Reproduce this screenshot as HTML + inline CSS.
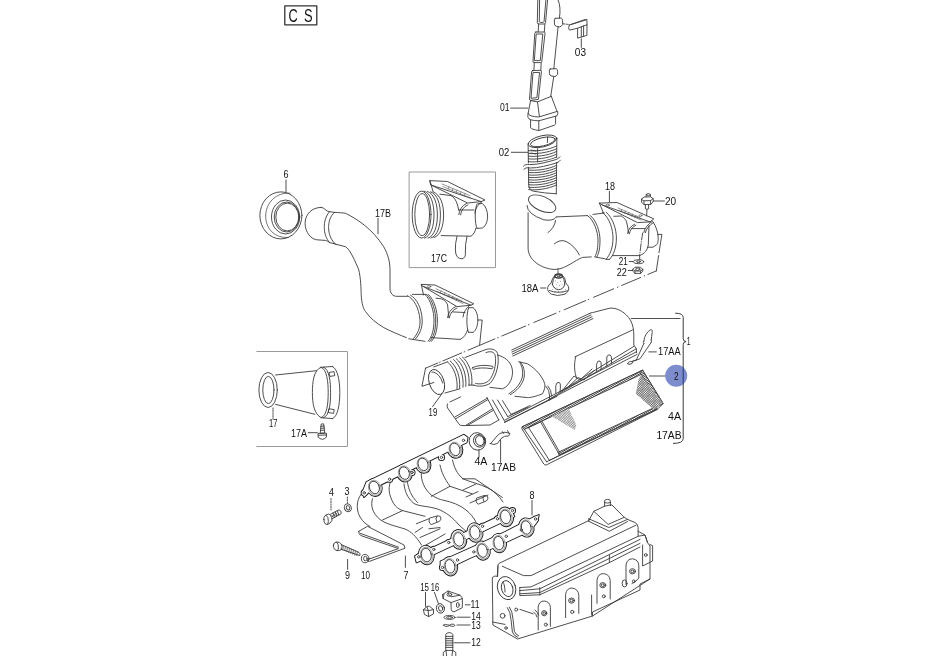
<!DOCTYPE html>
<html><head><meta charset="utf-8"><title>CS</title>
<style>
html,body{margin:0;padding:0;background:#fff;width:938px;height:656px;overflow:hidden}
svg{position:absolute;left:0;top:0;will-change:transform}
text{font-family:"Liberation Sans",sans-serif;fill:#111}
</style></head><body>
<svg width="938" height="656" viewBox="0 0 938 656">
<defs>
<pattern id="hatchA" width="1.6" height="1.6" patternUnits="userSpaceOnUse" patternTransform="rotate(60)"><rect width="1.6" height="1.6" fill="#fff"/><rect width="0.7" height="1.6" fill="#222"/></pattern>
<pattern id="hatchB" width="1.7" height="1.7" patternUnits="userSpaceOnUse" patternTransform="rotate(45)"><rect width="1.7" height="1.7" fill="#fff"/><rect width="0.55" height="1.7" fill="#333"/><rect width="1.7" height="0.45" fill="#555"/></pattern>
<pattern id="hatchC" width="1.8" height="1.8" patternUnits="userSpaceOnUse" patternTransform="rotate(45)"><rect width="1.8" height="1.8" fill="#fff"/><rect width="0.45" height="1.8" fill="#444"/><rect width="1.8" height="0.35" fill="#777"/></pattern>
</defs>
<g fill="none" stroke="#3a3a3a" stroke-width="0.9" stroke-linejoin="round" stroke-linecap="round">
<!-- CS -->
<rect x="284.8" y="5.8" width="32" height="19" stroke-width="1.3" stroke="#333"/>

<!-- ===== 01 pipe ===== -->
<path d="M537.8,0 L537.3,22.8 Q537.4,24 539,24 L544.3,24 Q545.4,23.8 545.5,22.6 L547.6,0"/>
<path d="M539.6,0 L539.3,21.5 Q539.5,22.4 540.5,22.4 L543.3,22.4 Q544,22 544.1,21 L545.9,0"/>
<path d="M538.6,24 L538.2,32 M544.9,24 L544.3,32"/>
<path d="M535.9,32 L544.3,32 Q545.2,32.4 545,33.5 L541.8,61.5 Q541.6,62.6 540.5,62.6 L534,62.6 Q532.9,62.4 533,61.3 L534.8,33.3 Q535,32.1 535.9,32 Z"/>
<path d="M536.6,34 L542.8,34 L540.3,60.6 L534.7,60.6 Z"/>
<path d="M534.3,62.6 L533.9,70.6 M541.2,62.6 L540.8,70.3"/>
<path d="M532.7,70.6 L540.8,70.3 Q541.6,70.8 541.4,71.8 L538.4,99.4 L530.6,100.4 Q529.4,100.2 529.5,99 L531.6,71.8 Q531.8,70.8 532.7,70.6 Z"/>
<path d="M533.4,72.6 L539.6,72.4 L536.9,97.6 L531.4,98.3 Z"/>
<path d="M530.6,100.6 L537.5,101.9 L551.3,96.3 M530.6,100.6 L528.1,113.4 M551.3,96.3 L557,111.3 M537.5,101.9 L539.4,116.5"/>
<path d="M528.1,113.6 Q528.8,116.6 538.8,117 L557.6,111.3 Q558.4,113.5 557,115.8 L538.8,120.8 Q528.8,120.6 528.1,117.6 Q527.4,115.6 528.1,113.6 Z"/>
<path d="M530.6,120.2 L530.6,127.9 Q531,129 538.8,130.6 L554.4,125.2 Q555.6,124.5 555.6,123.6 L555.6,116.3 M538.8,120.8 L538.8,130.4"/>
<!-- rod -->
<path d="M558.1,0 Q561.2,7 559.4,18.2 M558.1,26.9 L553.8,68.8 M553.8,76.3 L550.7,96.4"/>
<path d="M555.2,18.4 L561.2,18 Q562.6,18.6 562.6,20.6 L562.6,24.6 Q561.6,26.6 559.2,27 L556.2,26.2 Q554.5,25.6 554.4,24 L554.4,19.6 Q554.5,18.6 555.2,18.4 Z"/>
<path d="M550.2,69 L556.2,68.6 Q557.6,69.2 557.6,71.2 L557.6,74.4 Q556.6,76.4 554.2,76.6 L551.2,75.8 Q549.5,75.2 549.4,73.8 L549.4,70 Q549.5,69.2 550.2,69 Z"/>
<path d="M563.2,23.8 L568.2,24.4" stroke-dasharray="2 1.5"/>
<!-- 03 clip -->
<path d="M569.4,25 L585.4,19.4 L587,20.4 L586.9,35.4 L577.6,38.1 L577.6,28.2 L569.6,30.1 Q568.7,29.4 568.7,27.5 Q568.8,25.5 569.4,25 Z M577.6,28.2 L586.9,24.8 M581.3,26.6 L581.3,37 M583.6,25.8 L583.6,36.4 M571.4,24.4 L587,19.6"/>
<path d="M581.3,38.8 L581.3,47.4"/>
<path d="M510.6,108.1 L528,108.1"/>

<!-- ===== 02 hose ===== -->
<ellipse cx="542.5" cy="141.3" rx="14.6" ry="5.6" transform="rotate(-13 542.5 141.3)"/>
<ellipse cx="542.8" cy="141.8" rx="12.6" ry="4.1" transform="rotate(-13 542.8 141.8)"/>
<path d="M547.6,137 L547.4,142.6"/>
<path d="M528.1,143.5 L528.7,185.4 Q529.6,190.4 533.4,191.2 Q544,193.2 556.3,193.8 M556.9,138.2 L556.3,193.8"/>
<path d="M528.4,150.6 C535,151.6 548,150.2 556.6,146.0 M528.4,153.3 C535,154.3 548,152.9 556.6,148.8 M528.4,156.1 C535,157.1 548,155.7 556.6,151.5 M528.4,158.8 C535,159.8 548,158.4 556.6,154.2 M528.4,161.6 C535,162.6 548,161.2 556.6,157.0 M528.4,164.3 C535,165.3 548,163.9 556.6,159.8 M528.6,170.0 C535,171.0 548,169.6 556.4,165.4 M528.6,172.4 C535,173.4 548,172.0 556.4,167.8 M528.6,174.9 C535,175.9 548,174.5 556.4,170.3 M528.6,177.3 C535,178.3 548,176.9 556.4,172.8 M528.6,179.8 C535,180.8 548,179.4 556.4,175.2 M528.6,182.2 C535,183.2 548,181.8 556.4,177.7 M528.6,184.7 C535,185.7 548,184.3 556.4,180.1 M528.6,187.2 C535,188.2 548,186.8 556.4,182.6 M528.6,189.6 C535,190.6 548,189.2 556.4,185.0 M537.6,148.6 L537.6,162.2 M531,150 L536,151 M531,153 L536,154"/>
<path d="M523.4,166.7 C525,164.6 527,164.8 529.6,165.2 C538,165.4 548,162.4 556.6,160 C558.2,159.2 559.4,158.2 560,157.4" stroke="#fff" stroke-width="3.4"/><path d="M523.4,166.2 C525,164.2 527,164.4 529.6,164.6 C538,164.8 548,161.8 556.6,159.4 C558.2,158.6 559.4,157.6 560,156.8"/>
<path d="M523.8,169.4 C525.4,167.4 527.4,167.6 530,168 C538.4,168.2 548.4,165.2 557,162.8 C558.6,162 559.8,161 560.4,160.2"/>
<path d="M511.3,152.3 L527.8,152.3"/>

<!-- ===== 18 elbow ===== -->
<ellipse cx="542.2" cy="203.7" rx="14.6" ry="7.2" transform="rotate(24 542.2 203.7)"/>
<path d="M527,205.5 Q527,214 543.8,219.8 Q553.5,221.5 556.4,217"/>
<path d="M528.1,212.6 L528.1,248.8 C528.6,262 545,270 556.3,269.4 C566,268.6 575,260.2 582.5,257.4 L591.3,256.9"/>
<path d="M556.3,216.9 L587.5,215.6"/>
<path d="M548,232.6 Q554.4,228 555.6,220.4 M554.4,243.8 Q560,239 566,241.4 Q575,246 579.4,255"/>
<path d="M587.5,215.6 C594,220 598,232 598,240 C598,248 597,253 595,256.6 M590,215.4 C596.5,220 600,232 600,240 C600,248 599,253 597,256.7"/>
<path d="M593,214.4 L604.4,213 M595,257 L605,258.8"/>
<path d="M602.5,212.5 C610,218 613,230 613,238 C613,248 610,255 606,259.4 M606.2,212.3 C613.2,218 616.4,230 616.4,238 C616.4,248 613.6,255 609.6,259.3 M606,259.4 L609.6,259.3"/>
<path d="M613.8,216.3 L621.3,216 C624,217.5 626,220 626.6,222 C627.6,226 628.3,230 628.5,233 M631.6,228.6 L644.7,228.6 M612.5,255.6 L638.8,255.6"/>
<path d="M642.7,233 C641.5,240 640.5,248 639.6,256 L639.8,259.6" stroke-dasharray="7 1.6 0.6 1.6"/><path d="M649,225.8 L648.3,244.9 C647.5,250 645,253.5 639.6,255.6"/>
<path d="M653,221.9 C656,226 658,232 658.2,237.7 C658.2,242 657.5,244.5 656.2,244.9 L653,247.2 L647.5,247.2"/>
<path d="M599.4,203.1 L616.9,202.5 L653.8,218.8 L650,221.9 L637.5,222.6 L602.5,205 Z M599.4,203.1 L603.5,213 M602.5,205 L650,221.9"/>
<path d="M618,208 L640,217.6 M619,210.4 L641,220 M622,209.4 L621,211.6 M625.5,210.9 L624.5,213.1 M629,212.4 L628,214.6 M632.5,214 L631.5,216.2 M636,215.5 L635,217.7" stroke-width="0.55" stroke="#444"/><ellipse cx="607.6" cy="205.2" rx="1.8" ry="0.9" stroke-width="0.6"/><ellipse cx="640.4" cy="215.6" rx="1.6" ry="0.9" stroke-width="0.6"/>
<path d="M627.6,233.4 Q628.6,227 634.6,224.2 M629.4,233.8 Q630.2,228 635.8,225.2 M643.8,232.4 Q645,226 652.5,221.2 M645.4,232.6 Q646.6,226.8 653.6,222.4"/>
<path d="M609.4,191.3 L609.4,202.5"/>
<!-- 20 bolt -->
<path d="M646.2,197 L646.2,194.4 Q648.3,192.6 650.4,194.4 L650.4,197 M646.2,195 Q648.3,196 650.4,195"/>
<path d="M641.6,199 L644,197 L650.6,196.8 L653.2,198.6 L650.6,200.6 L644,200.8 Z M641.6,199 L641.6,202.2 L644,204.6 L650.6,204.4 L653.2,202 L653.2,198.6 M644,200.8 L644,204.6 M650.6,200.6 L650.6,204.4" fill="#fff"/>
<path d="M645.4,204.8 L645.4,208.8 Q647,209.8 648.6,208.8 L648.6,204.6 M647,209.6 L646.6,216" />
<path d="M653.4,201 L664.4,201"/>
<!-- 21 22 -->
<ellipse cx="638.5" cy="261.7" rx="5.2" ry="2"/>
<ellipse cx="638.5" cy="261.7" rx="2" ry="0.8"/>
<path d="M632.8,269.4 L635,267.2 L640.6,267.2 L642.8,269.4 L642.8,271.2 L640.6,273.4 L635,273.4 L632.8,271.2 Z M632.8,269.4 L635,271 L640.6,271 L642.8,269.4 M635,271 L635,273.4 M640.6,271 L640.6,273.4" fill="#fff"/>
<ellipse cx="637.8" cy="269.2" rx="2.2" ry="1.2"/>
<path d="M629.2,261.5 L633,261.5 M628.2,270.5 L632.4,270.5"/>

<!-- 18A boot -->
<path d="M550.6,283.6 Q548,285 547.6,287.6 Q547.4,292 551.4,294.2 Q557.6,296.6 564,294.4 Q568.8,292.6 568.8,288 Q568.4,285 566,283.6 L564.6,278 Q563.4,275 558.6,274 Q553.8,275 552.8,278 Z" fill="#fff"/>
<path d="M554.9,276.4 Q553,279 552.4,284.2 M562.4,276.4 Q564.4,279 564.8,284.2 M552.4,284.2 Q553.6,289.2 558.4,289.8 Q563.6,289.6 564.8,284.2 M549.4,290.6 Q557.6,294 567.6,290.8"/>
<ellipse cx="558.6" cy="276" rx="3.8" ry="2" stroke-width="1.3"/>
<ellipse cx="558.6" cy="275.8" rx="1.8" ry="0.9"/>
<circle cx="555.5" cy="281" r="0.45" fill="#444" stroke="none"/><circle cx="557.8" cy="282.4" r="0.45" fill="#444" stroke="none"/><circle cx="560.6" cy="281.2" r="0.45" fill="#444" stroke="none"/><circle cx="556.2" cy="284.6" r="0.45" fill="#444" stroke="none"/><circle cx="559.4" cy="285.8" r="0.45" fill="#444" stroke="none"/><circle cx="562" cy="284.2" r="0.45" fill="#444" stroke="none"/><circle cx="554.4" cy="287.2" r="0.45" fill="#444" stroke="none"/><circle cx="557" cy="288" r="0.45" fill="#444" stroke="none"/><circle cx="561.4" cy="288.4" r="0.45" fill="#444" stroke="none"/><circle cx="563.4" cy="286.6" r="0.45" fill="#444" stroke="none"/><circle cx="552.4" cy="289.6" r="0.45" fill="#444" stroke="none"/><circle cx="565.4" cy="289.8" r="0.45" fill="#444" stroke="none"/><circle cx="558.6" cy="291.4" r="0.45" fill="#444" stroke="none"/><circle cx="555" cy="291.8" r="0.45" fill="#444" stroke="none"/><circle cx="562.2" cy="292" r="0.45" fill="#444" stroke="none"/>
<path d="M558,268.6 L558,273.4" stroke-dasharray="1.5 1.2"/>
<path d="M540.6,288 L545.8,288"/>
<!-- long dash line -->
<path d="M425.3,368.3 L437.8,363.0 M442.9,360.9 L461.7,352.9 M468.1,350.2 L494.9,338.9 M501.8,336.0 L525.7,326.0 M533.8,322.5 L556,313.2 M564.1,309.8 L585.7,300.6 M593.6,297.3 L613.7,288.8 M621.6,285.5 L640.6,277.5 M647.9,274.4 L656.3,270.9 M439.6,362.3 L440.2,362.0 M464.1,351.9 L464.7,351.7 M497.6,337.8 L498.2,337.6 M528.4,324.8 L529.0,324.6 M559.3,311.8 L559.9,311.5 M588.2,299.6 L588.8,299.3 M617.4,287.3 L618.0,287.0 M644.2,276.0 L644.8,275.7 M656.3,271 L658.6,255.6 M659,252.6 L661.9,234.4 L657.5,234.4"/>

<!-- ===== Box 17C ===== -->
<rect x="409.5" y="172" width="86" height="95.6" stroke="#999" stroke-width="1"/>
<ellipse cx="421.6" cy="214.6" rx="9.4" ry="23.4"/>
<ellipse cx="422.2" cy="214.6" rx="7.4" ry="21"/>
<path d="M424,191 C431,193 434,204 434,215 C434,226 431,236 424.5,238.2 M427.5,191.4 C434.5,194 437.4,204 437.4,215 C437.4,226 434.5,236 428,238.2 M430.5,191.8 C437.5,194 440.4,204 440.4,215 C440.4,226 437.5,236 431,238 M433.5,192 C440.5,195 443.6,204 443.6,215 C443.6,226 440.5,235.5 434,237.6"/>
<path d="M440,194.2 L451,195.6 Q455.6,198 457.5,205 L458.8,210.4 M441.2,235.6 L471,236.2 Q474.6,234 476,228"/>
<path d="M477,204 C474.6,208 474.6,224 477,228.4 M478,203.6 L482.5,203.6 C486,206 487.6,212 487.6,216 C487.6,221 486,226 482.5,228 L477,228.4"/>
<path d="M430,180.6 L447.5,181.5 L485,200 L481.2,201.6 L467.6,203 L431,185 Z M430,180.6 L433,191.6 M431,185 L481.2,201.6"/>
<path d="M442,184 L470,195.6 M443,186.6 L471,198.2 M449,186.8 L448.2,189 M453,188.5 L452.2,190.7 M457,190.2 L456.2,192.4 M461,191.9 L460.2,194.1 M465,193.6 L464.2,195.8" stroke-width="0.55" stroke="#444"/>
<path d="M458.8,214.6 Q459.4,207 466.6,203.4 M460.6,214.8 Q461.2,208 468,204.8 M474.8,213 Q475.6,206 481.6,202 M459,210 L474,210"/>
<path d="M457,236.4 Q455,244 455.4,250 Q455.6,259 462,258.8 Q466,258 465.4,252 Q465,245 467,236.4"/>

<!-- ===== 6 ring ===== -->
<ellipse cx="280.9" cy="215.4" rx="21" ry="23.5"/>
<path d="M290,193.2 C276,192 265.7,203 265.7,216.1 C265.7,229 275,238.4 288,237.4" stroke-width="0.7"/>
<ellipse cx="285.6" cy="217" rx="14.1" ry="17"/>
<ellipse cx="286.7" cy="217" rx="12.5" ry="15"/>
<ellipse cx="287.3" cy="217" rx="11.5" ry="13.9"/>
<path d="M286,180 L286,192"/>

<!-- ===== 17B hose ===== -->
<path d="M321.1,207.4 C312,207.4 305.1,214 305.1,223.4 C305.1,232 311,239.9 317.9,239.9 L325.4,240.4 Q327.4,240.8 329.6,242.6 L333.9,243.6"/>
<path d="M321.1,207.4 Q323.5,207.6 325,209.4 Q327,211.4 329.6,211.7 L334.6,212.4"/>
<path d="M329.6,211.7 C325.5,216 324.2,222 324.3,227.6 C324.4,233 326,238.6 329.6,242.6 M334.6,212.4 C330,216 328.6,222 328.6,227.6 C328.6,234 331,240.4 336,244.7"/>
<path d="M334.6,212.4 C339,212.6 342.5,212.8 345.6,213.3 C358,219.6 372,228.6 383.6,246.6 C388,254 390,262 390,270 L390,288.8 C390,293 393,296.3 396.3,296.3 L407.5,296.3"/>
<path d="M333.9,243.6 L345.6,246.8 C349,249 352,254 358.5,269 C361,278 361,290 361.2,294.4 C361.6,304 363.6,309 365.4,311.4 C370,318 376,323 383.8,327.6 C392,332 400,335 406.3,337.6"/>
<path d="M407.5,295.7 C414,299 419,308 420,320 C420.4,328 417.6,334 413.4,338.6 M410.6,295.2 C417,299 421.6,308 422.2,320 C422.4,328 419.8,334 415.6,338.8"/>
<path d="M412.5,294.4 L426.3,294.4 M408.8,338.8 L425,341.3"/>
<path d="M425,294.4 C431,300 434,312 434,320 C434,330 432,337 428,341.3 M428.6,294.6 C434.6,300 437.4,312 437.4,320 C437.4,330 435.4,337 431.4,341.4 M426.8,294.5 C432.8,300 435.7,312 435.7,320 C435.7,330 433.7,337 429.7,341.4"/>
<path d="M436,298.2 L441.3,298.8 C445,300 447,303 447.6,305 L448.8,317.6 M431,337.6 L460,339.4 C464,338 466,334 467.6,330"/>
<path d="M468.6,307.8 C466.4,313 466.2,327 468.4,332.2 M468.6,307.8 L473,307.6 C476.6,310 477.8,316 477.8,320 C477.8,325 476.6,330 473,332.4 L468.4,332.2"/>
<path d="M421.3,284.4 L435,285 L473.8,303.8 L471,305.2 L457,306.6 L423,286.3 Z M421.3,284.4 L423.5,295 M423,286.3 L471,305.2"/>
<path d="M436,288.8 L462,301 M437,291.4 L463,303.6 M441,290.9 L440.2,293.1 M445,292.8 L444.2,295 M449,294.7 L448.2,296.9 M453,296.6 L452.2,298.8 M457,298.5 L456.2,300.7" stroke-width="0.55" stroke="#444"/><ellipse cx="429" cy="286.6" rx="1.8" ry="0.9" stroke-width="0.6"/>
<path d="M447.6,317.6 Q448.4,310 455.6,306.6 M449.4,317.8 Q450.2,311 457,308 M463,317 Q463.8,310 469.6,305.4 M452.5,311.9 L465,312.5"/>
<path d="M477.8,320 L482.2,320 L479.6,345.2"/>
<path d="M378,218.4 L378,233.8"/>

<!-- ===== Box 17 ===== -->
<path d="M256.8,351.5 L347.5,351.5 L347.5,446.5 L256.8,446.5" stroke="#999" stroke-width="1"/>
<ellipse cx="268.1" cy="390" rx="9.2" ry="17.5"/>
<ellipse cx="268.4" cy="390" rx="5.6" ry="13.6"/>
<path d="M275.6,375 L316.6,370.7 M275.6,404.4 L314.9,414.3"/>
<path d="M321,367.3 C313.6,370 312.4,382 312.4,392.5 C312.4,404 314,414 321.2,417.7"/>
<path d="M321,367.3 C327,369 328.2,382 328.2,392.5 C328.2,404 327,415.6 321.2,417.7 M323.4,367.1 C329.4,369 330.6,382 330.6,392.5 C330.6,404 329.4,415.6 323.6,417.8"/>
<path d="M321,367.3 L332.4,366.5 M321.2,417.7 L332.6,418.6"/>
<path d="M332.4,366.5 C337.8,368.6 339.8,381 339.8,392.5 C339.8,404.5 337.8,416.6 332.6,418.6"/>
<path d="M329.4,372.4 L334,371.6 L334.8,375.6 L330.2,376.4 Z M329.2,408.8 L334.2,409.6 L333.6,413.4 L328.6,412.6 Z"/>
<path d="M273,408 L273,419.2" stroke-dasharray="1.4 1.1"/>
<path d="M308.2,432.7 L317.4,432.7"/>
<path d="M321.6,424 L323.6,423.8 L324.8,433 L320.6,433.2 Z M320.8,426.4 L324.2,426 M320.9,428.4 L324.4,428 M320.8,430.4 L324.6,430"/>
<path d="M318.4,433.4 L326.4,433.2 L326.4,437.2 Q322.4,441.4 318.4,437.4 Z M318.4,435.2 L326.4,435"/>
<!-- ===== housing (1) ===== -->
<!-- lower duct -->
<path d="M450,401.9 L460.6,396.9 M447.5,403.8 Q446.4,406 447.6,408 L458.8,423.8 Q460,425.6 462,425.6 L490,425 L498.8,420" fill="#fff"/>
<path d="M455,416.9 L487.5,398.1 M455.6,418.8 L487.6,399.8 M466.3,425 L492.5,408.8 M467.3,425.6 L493.2,410.4"/>
<path d="M486.9,397.5 L498.8,420 M492.5,400 L503.4,419 M497.5,400 L507.8,416.6 M502.5,400.6 L511,414.4 M503.4,419 L505,421.9 L557,396.3 M507.8,416.6 L527.5,407.5 M511,414.4 L530,405.6"/>
<!-- main cover -->
<path d="M511.7,350 L590,313.3 M512,352 L591,315 M512.4,354 L592,316.8 M512.8,356 L593,318.6"/>
<path d="M590,313.3 Q591,312.4 592.6,312.6 L610,308.1 C618,307.6 626,313 630.4,320 C633,325 633.8,330 633.8,335 L633.8,345 L636.3,348.8 L636.6,352.8"/>
<path d="M575,356.8 L632.5,330 M575.8,356.8 C573.8,364 574.2,372 576.7,378.4"/>
<path d="M548.8,399.4 L636.3,348.8 M558.8,392.5 L633.8,346.4 M505,420 L636.6,351.7 M504.4,422.6 L637,354.4"/>
<path d="M596.6,372 L596.6,364.2 Q597.4,360.2 600,361 Q601.6,362 601.2,366 L601,369 M606.8,366.4 L606.8,357 Q607.6,354.2 610.2,355 Q611.8,356 611.6,359.6 L611.4,363.6"/>
<path d="M555.8,393.2 L555.8,385.6 Q556.6,381.6 559.2,382.4 Q560.8,383.4 560.4,387 L560.2,390.6"/>
<path d="M562,391 L574,376 L580,380 L592,369 M566,389 L578,377.6 L584,380 L594,370.6"/>
<!-- left curved duct area -->
<path d="M465,357.5 L484,350.2 C490,347.6 496,349 497.6,353.6 C499.6,362 497,376 490,383.4 C485,386.6 478,386.8 473.8,385.2 M486,352.6 C491,350.6 494.4,352 495.2,355.6 C496.6,363 494.4,375 488.4,381.2 C484.4,384 479,384.4 475.6,383.4"/>
<path d="M497.5,355 C505,357 510,361 512,368 C514,376 510,386 502.5,388.8 L490,387.4"/>
<path d="M518.8,361.3 C522,365 523,370 522.5,376 C521,384 515,390 508.8,393.8 M520.4,362 C523.8,366 524.8,371 524.2,377 C522.6,385 516.6,391 510.4,394.6"/>
<path d="M520,362 L527.5,363.8 C533,367 538,372 540,375 C543,379 545,383 545,386 C544.6,390 543,392.6 542.5,393.8 C535,396.8 530,397.6 527.5,397.6 L515,396.3"/>
<path d="M472.6,367.6 Q481,363.8 492.6,366.3 Q493.6,368 492,368.8 Q481,366.8 473,369.4 Q471.6,368.8 472.6,367.6 Z"/>
<path d="M546,386.4 Q549.6,390 549.6,396 L549.2,400.4 M548,386 Q551.6,390 551.6,396"/>
<!-- part 19 -->
<path d="M425.6,368.1 L421.9,386.3 L433.8,382.5"/>
<ellipse cx="436.6" cy="382" rx="7.4" ry="13" transform="rotate(-18 436.6 382)"/>
<path d="M431.8,372 C437,372 441,377 442.6,383 M433.8,366.9 L447.5,361.9 M445,393 L460,388.8"/>
<path d="M447.5,361.9 C454,367 458,378 457,388.8 M450.2,361 C456.6,366 460.6,377 459.6,388.2 M453.6,359.6 C460,365 464,376 463,387.2 M456.4,358.8 C462.8,364 466.8,375 465.8,386.4 M459.6,357.8 C466,363 470,374 469,385.6 M462.4,357 C468.8,362 472.8,373 471.8,384.8"/>
<path d="M469,385 L474,385.2"/>
<path d="M432.6,406.6 L442,393.6"/>
<!-- brace & 1 -->
<path d="M631.3,318.5 L680,318.5"/>
<path d="M675.6,313.2 Q683.2,313.2 683.2,317.4 L683.2,338.6 Q683.2,341.4 686,341.6 Q683.2,341.8 683.2,344.6 L683.2,438.6 Q683.2,443.4 673.4,443.4" stroke-width="1"/>
<!-- 17AA -->
<path d="M643.8,341.3 Q644.6,333 651.2,329.4 Q652.6,330 652.2,332.6 Q651.6,336.6 651.2,340 M643.8,343.6 L636.3,360 M651.2,342.4 L640,358.8 L632.6,361.3 M643.8,341.3 Q642.6,342.6 643.8,343.6 M651.2,340 Q652,341.4 651.2,342.4 M636.3,360 L632.5,361.3"/>
<path d="M627.6,363.6 Q628,361.6 630.6,361.4 L632.6,361.8 Q632.8,363.8 630.4,364.2 Z"/>
<path d="M648.8,351.9 L656.3,351.9"/>
<path d="M649.4,376 L665,376"/>
<!-- filter 2 -->
<path d="M522.6,426.6 L642.6,370.2 L663.2,403.6 L656.9,409.7 L546.4,464.9 Q544.6,465.4 543.8,464 L521.8,428.6 Q521.6,427.2 522.6,426.6 Z" fill="#fff"/>
<path d="M522.6,426.6 L642.6,370.2 L643.8,373.2 L524.4,429.4 Z" fill="url(#hatchA)"/>
<path d="M642.6,370.2 L663.2,403.6 L660.6,405 L640.4,373 Z" fill="url(#hatchA)"/>
<path d="M524.4,429.4 L546.6,461.8 M546.6,461.8 L656.9,406.6 M660.6,405 L656.9,406.6 L656.9,409.7"/>
<path d="M528.6,427.6 L549.4,460.4 M528.6,427.6 L540.4,421.8"/>
<path d="M558.4,452.2 L655.6,407 L656.4,409.4 L559.4,454.8 Z" fill="url(#hatchA)"/><path d="M549.4,460.4 L656.4,409.4"/>
<path d="M540.4,421.6 L558.4,453 M541.8,421 L559.8,452.4"/>
<path d="M641.2,375.2 L638.6,379.3 L635.8,393.7 L653.7,409.4 L663,403 Z" fill="url(#hatchB)" stroke="none"/>
<path d="M551.8,416.5 L568.7,408.4 L576.3,424.9 L574.8,429.9 Z" fill="url(#hatchC)" stroke="none"/>


<!-- ===== manifold ===== -->

<path d="M363.8,491.3 C357,497 355,508 360,517 C363,522 367,525 370,526.5"/>
<path d="M372.5,498.8 C370.5,505 372,513 380,519.5 C386,524 395,526 405,529 C411,531.5 416,536 421.5,545"/>
<path d="M391.3,480 C388,486 388,494 393.8,503.8 C396,507 398.5,509 402.5,510.6"/>
<path d="M382.5,520 L402.5,510.6 L425,516.3"/>
<path d="M404,483.8 C404.5,490 407,498 414,503.5 C419,506.5 428,506 437.5,509 C446,512 453,518 458,524 C462,528 466,531 468,533"/>
<path d="M407.5,482.5 C408.5,489 411,496 417.5,502.5"/>
<path d="M421.3,473.8 C421,480 424,489 431.3,495 C436,498 440,499.5 442.5,500 C452,502 460,505 466,510 C470,513 474,518 476,522"/>
<path d="M431.3,496.3 L450,486.3 L472,493.8"/>
<path d="M440,465 C441.5,472 444,478 450,486.3"/>
<path d="M452.5,460 C454,467 457,474 463,478.8 C470,482 480,484 488,488 C494,491 499,496 503,502"/>
<path d="M462.5,478.8 L475,478.8 L502.5,497.5"/>
<path d="M416.3,523.8 L428.8,518.8 M415,532.5 L422.5,527.5 M428.8,528.8 L440,527.5 M420,537.5 L440,528.8 M426,545 L445,534"/>
<path d="M429.5,518.4 Q428,522.6 431.2,524.6 L439.4,521.4 Q441.8,519.2 440.6,516.8 Q439,515.4 437,516 Z M437,516 Q434.8,518.6 436.8,521.8"/>
<path d="M476.5,498.4 Q475,502.4 478.2,504.2 L486.4,501 Q488.8,498.8 487.6,496.4 Q486,495 484,495.6 Z M484,495.6 Q481.8,498.2 483.8,501.4"/>
<path d="M463,490 L476,484 M466,497 L478,491.6 M470,503 L488,495"/>
<!-- left plate -->
<path d="M358.8,531.3 L367.5,526.3 L404,545 L405,548.2 L369.4,561.4 Q366.8,561.6 367.6,559.6 L398.4,548.6 L361,535.6 Q358,534 358.8,531.3 Z" fill="#fff"/>
<path d="M360.4,533.4 L398.6,547.2"/>

<g stroke="#1a1a1a" stroke-width="1.9" fill="#1a1a1a"><ellipse cx="374.4" cy="487.5" rx="7.2" ry="8.6" transform="rotate(-20 374.4 487.5)"/><ellipse cx="404.4" cy="473.1" rx="7.2" ry="8.6" transform="rotate(-20 404.4 473.1)"/><ellipse cx="423.1" cy="464.4" rx="7.2" ry="8.6" transform="rotate(-20 423.1 464.4)"/><ellipse cx="455" cy="449.4" rx="7.2" ry="8.6" transform="rotate(-20 455 449.4)"/><circle cx="364.2" cy="492.8" r="2.6"/><circle cx="389.6" cy="479.2" r="2.6"/><circle cx="412" cy="472.5" r="2.6"/><circle cx="441.5" cy="457.4" r="2.6"/><circle cx="463.5" cy="440.4" r="2.6"/><path d="M362.5,492 L366.5,482 L463.8,434.8 L467.6,437.6 L466.6,442.4 L372,489 L364,497 Z"/></g><g stroke="none" fill="#fff"><ellipse cx="374.4" cy="487.5" rx="7.2" ry="8.6" transform="rotate(-20 374.4 487.5)"/><ellipse cx="404.4" cy="473.1" rx="7.2" ry="8.6" transform="rotate(-20 404.4 473.1)"/><ellipse cx="423.1" cy="464.4" rx="7.2" ry="8.6" transform="rotate(-20 423.1 464.4)"/><ellipse cx="455" cy="449.4" rx="7.2" ry="8.6" transform="rotate(-20 455 449.4)"/><circle cx="364.2" cy="492.8" r="2.6"/><circle cx="389.6" cy="479.2" r="2.6"/><circle cx="412" cy="472.5" r="2.6"/><circle cx="441.5" cy="457.4" r="2.6"/><circle cx="463.5" cy="440.4" r="2.6"/><path d="M362.5,492 L366.5,482 L463.8,434.8 L467.6,437.6 L466.6,442.4 L372,489 L364,497 Z"/></g><ellipse cx="374.4" cy="487.5" rx="4.9" ry="6.4" transform="rotate(-20 374.4 487.5)"/><ellipse cx="374.7" cy="487.8" rx="6.1000000000000005" ry="7.7" transform="rotate(-20 374.7 487.8)" stroke-width="0.5" stroke="#555"/><ellipse cx="404.4" cy="473.1" rx="4.9" ry="6.4" transform="rotate(-20 404.4 473.1)"/><ellipse cx="404.7" cy="473.40000000000003" rx="6.1000000000000005" ry="7.7" transform="rotate(-20 404.7 473.40000000000003)" stroke-width="0.5" stroke="#555"/><ellipse cx="423.1" cy="464.4" rx="4.9" ry="6.4" transform="rotate(-20 423.1 464.4)"/><ellipse cx="423.40000000000003" cy="464.7" rx="6.1000000000000005" ry="7.7" transform="rotate(-20 423.40000000000003 464.7)" stroke-width="0.5" stroke="#555"/><ellipse cx="455" cy="449.4" rx="4.9" ry="6.4" transform="rotate(-20 455 449.4)"/><ellipse cx="455.3" cy="449.7" rx="6.1000000000000005" ry="7.7" transform="rotate(-20 455.3 449.7)" stroke-width="0.5" stroke="#555"/><circle cx="364.2" cy="492.8" r="1.2"/><circle cx="389.6" cy="479.2" r="1.2"/><circle cx="412" cy="472.5" r="1.2"/><circle cx="441.5" cy="457.4" r="1.2"/><circle cx="463.5" cy="440.4" r="1.2"/>
<g stroke="#1a1a1a" stroke-width="1.9" fill="#1a1a1a"><ellipse cx="426.3" cy="555" rx="7.4" ry="9.4" transform="rotate(-12 426.3 555)"/><ellipse cx="458.8" cy="539.4" rx="7.4" ry="9.4" transform="rotate(-12 458.8 539.4)"/><ellipse cx="475" cy="532.5" rx="7.4" ry="9.4" transform="rotate(-12 475 532.5)"/><ellipse cx="505.6" cy="516.9" rx="7.4" ry="9.4" transform="rotate(-12 505.6 516.9)"/><circle cx="418.8" cy="556.9" r="2.6"/><circle cx="433.8" cy="549.4" r="2.6"/><circle cx="448.8" cy="542.5" r="2.6"/><circle cx="482.5" cy="526.3" r="2.6"/><circle cx="497.5" cy="518.8" r="2.6"/><circle cx="512.5" cy="510.6" r="2.6"/><path d="M416.6,562.4 L514.3,516.5 L511.3,510.4 L415,556 Z"/></g><g stroke="none" fill="#fff"><ellipse cx="426.3" cy="555" rx="7.4" ry="9.4" transform="rotate(-12 426.3 555)"/><ellipse cx="458.8" cy="539.4" rx="7.4" ry="9.4" transform="rotate(-12 458.8 539.4)"/><ellipse cx="475" cy="532.5" rx="7.4" ry="9.4" transform="rotate(-12 475 532.5)"/><ellipse cx="505.6" cy="516.9" rx="7.4" ry="9.4" transform="rotate(-12 505.6 516.9)"/><circle cx="418.8" cy="556.9" r="2.6"/><circle cx="433.8" cy="549.4" r="2.6"/><circle cx="448.8" cy="542.5" r="2.6"/><circle cx="482.5" cy="526.3" r="2.6"/><circle cx="497.5" cy="518.8" r="2.6"/><circle cx="512.5" cy="510.6" r="2.6"/><path d="M416.6,562.4 L514.3,516.5 L511.3,510.4 L415,556 Z"/></g><ellipse cx="426.3" cy="555" rx="5" ry="6.9" transform="rotate(-12 426.3 555)"/><ellipse cx="426.6" cy="555.3" rx="6.2" ry="8.200000000000001" transform="rotate(-12 426.6 555.3)" stroke-width="0.5" stroke="#555"/><ellipse cx="458.8" cy="539.4" rx="5" ry="6.9" transform="rotate(-12 458.8 539.4)"/><ellipse cx="459.1" cy="539.6999999999999" rx="6.2" ry="8.200000000000001" transform="rotate(-12 459.1 539.6999999999999)" stroke-width="0.5" stroke="#555"/><ellipse cx="475" cy="532.5" rx="5" ry="6.9" transform="rotate(-12 475 532.5)"/><ellipse cx="475.3" cy="532.8" rx="6.2" ry="8.200000000000001" transform="rotate(-12 475.3 532.8)" stroke-width="0.5" stroke="#555"/><ellipse cx="505.6" cy="516.9" rx="5" ry="6.9" transform="rotate(-12 505.6 516.9)"/><ellipse cx="505.90000000000003" cy="517.1999999999999" rx="6.2" ry="8.200000000000001" transform="rotate(-12 505.90000000000003 517.1999999999999)" stroke-width="0.5" stroke="#555"/><circle cx="418.8" cy="556.9" r="1.2"/><circle cx="433.8" cy="549.4" r="1.2"/><circle cx="448.8" cy="542.5" r="1.2"/><circle cx="482.5" cy="526.3" r="1.2"/><circle cx="497.5" cy="518.8" r="1.2"/><circle cx="512.5" cy="510.6" r="1.2"/>
<g stroke="#1a1a1a" stroke-width="1.9" fill="#1a1a1a"><ellipse cx="450" cy="566.3" rx="7.2" ry="9.2" transform="rotate(-12 450 566.3)"/><ellipse cx="482.5" cy="550.6" rx="7.2" ry="9.2" transform="rotate(-12 482.5 550.6)"/><ellipse cx="498.8" cy="543.1" rx="7.2" ry="9.2" transform="rotate(-12 498.8 543.1)"/><ellipse cx="526.3" cy="527.5" rx="7.2" ry="9.2" transform="rotate(-12 526.3 527.5)"/><circle cx="442.5" cy="567.5" r="2.6"/><circle cx="457.5" cy="560" r="2.6"/><circle cx="473.8" cy="551.9" r="2.6"/><circle cx="506.3" cy="536.3" r="2.6"/><circle cx="521.3" cy="530" r="2.6"/><circle cx="535.6" cy="519" r="2.6"/><path d="M440.6,561.3 L446,559 L475,546 L505,532 L530,519 L538.8,515 L537,522 L530,531 L500,545 L470,558 L445,570 L440.6,568 Z"/></g><g stroke="none" fill="#fff"><ellipse cx="450" cy="566.3" rx="7.2" ry="9.2" transform="rotate(-12 450 566.3)"/><ellipse cx="482.5" cy="550.6" rx="7.2" ry="9.2" transform="rotate(-12 482.5 550.6)"/><ellipse cx="498.8" cy="543.1" rx="7.2" ry="9.2" transform="rotate(-12 498.8 543.1)"/><ellipse cx="526.3" cy="527.5" rx="7.2" ry="9.2" transform="rotate(-12 526.3 527.5)"/><circle cx="442.5" cy="567.5" r="2.6"/><circle cx="457.5" cy="560" r="2.6"/><circle cx="473.8" cy="551.9" r="2.6"/><circle cx="506.3" cy="536.3" r="2.6"/><circle cx="521.3" cy="530" r="2.6"/><circle cx="535.6" cy="519" r="2.6"/><path d="M440.6,561.3 L446,559 L475,546 L505,532 L530,519 L538.8,515 L537,522 L530,531 L500,545 L470,558 L445,570 L440.6,568 Z"/></g><ellipse cx="450" cy="566.3" rx="4.8" ry="6.8" transform="rotate(-12 450 566.3)"/><ellipse cx="450.3" cy="566.5999999999999" rx="6.0" ry="8.1" transform="rotate(-12 450.3 566.5999999999999)" stroke-width="0.5" stroke="#555"/><ellipse cx="482.5" cy="550.6" rx="4.8" ry="6.8" transform="rotate(-12 482.5 550.6)"/><ellipse cx="482.8" cy="550.9" rx="6.0" ry="8.1" transform="rotate(-12 482.8 550.9)" stroke-width="0.5" stroke="#555"/><ellipse cx="498.8" cy="543.1" rx="4.8" ry="6.8" transform="rotate(-12 498.8 543.1)"/><ellipse cx="499.1" cy="543.4" rx="6.0" ry="8.1" transform="rotate(-12 499.1 543.4)" stroke-width="0.5" stroke="#555"/><ellipse cx="526.3" cy="527.5" rx="4.8" ry="6.8" transform="rotate(-12 526.3 527.5)"/><ellipse cx="526.5999999999999" cy="527.8" rx="6.0" ry="8.1" transform="rotate(-12 526.5999999999999 527.8)" stroke-width="0.5" stroke="#555"/><circle cx="442.5" cy="567.5" r="1.2"/><circle cx="457.5" cy="560" r="1.2"/><circle cx="473.8" cy="551.9" r="1.2"/><circle cx="506.3" cy="536.3" r="1.2"/><circle cx="521.3" cy="530" r="1.2"/><circle cx="535.6" cy="519" r="1.2"/>
<!-- ===== small parts 3 4 9 10 4A 17AB ===== -->
<path d="M323.8,519.4 Q323.2,516.4 326,515 L328.4,514 Q331,514.4 331.6,517.4 L332,520.4 Q330.6,523.6 327.6,524.4 L325.6,524.2 Q323.8,522.6 323.8,519.4 Z M326,515 Q328.6,516.6 328.4,521.4 L327.6,524.4"/><path d="M330.6,514.2 L339,509.8 Q341.4,510.4 341.2,513.6 L332.2,518.8 M333,513 L334.4,517.6 M335.2,511.8 L336.6,516.4 M337.4,510.6 L338.8,515.2"/>
<path d="M332,515.4 L333,517.2 M334,514.2 L335,516 M336,513 L337,514.8"/>
<ellipse cx="347.8" cy="507.8" rx="3.4" ry="4" transform="rotate(-25 347.8 507.8)"/><ellipse cx="348" cy="507.8" rx="1.6" ry="2.2" transform="rotate(-25 348 507.8)"/>
<path d="M331,498.6 L331,510" stroke-dasharray="1.4 1.2"/>
<path d="M347.4,497 L347.4,503.4" stroke-dasharray="1.4 1.2"/>
<path d="M333.4,545.2 Q333.6,542.2 336.6,542 L339.4,542.4 Q341.8,543.6 342,546.6 L341.4,549.6 Q339.6,551 337,550.6 L334.8,549.6 Q333.2,548 333.4,545.2 Z M336.6,542 Q339,544 338.4,549 L337,550.6"/>
<path d="M341.4,544.6 L359,552.4 Q360.6,553.6 359.8,555.6 L340.8,549.2"/>
<path d="M343.4,545.6 L342.8,549.8 M345.4,546.5 L344.8,550.7 M347.4,547.4 L346.8,551.6 M349.4,548.3 L348.8,552.5 M351.4,549.2 L350.8,553.4 M353.4,550.1 L352.8,554.3 M355.4,551 L354.8,555.2 M357.4,551.9 L356.8,555.6" stroke-width="0.7"/>
<ellipse cx="365.2" cy="558.6" rx="3.8" ry="4.2"/><ellipse cx="365.4" cy="558.6" rx="1.8" ry="2.3"/>
<path d="M347.6,559.4 L347.6,569.4"/>
<path d="M405.4,556 L405.4,567.4"/>
<path d="M532,500.4 L532,515"/>
<ellipse cx="477.4" cy="441.4" rx="8.2" ry="8.8" transform="rotate(-20 477.4 441.4)"/>
<ellipse cx="479.2" cy="440.8" rx="5.6" ry="6.4" transform="rotate(-20 479.2 440.8)"/>
<ellipse cx="479.8" cy="440.6" rx="4.2" ry="5" transform="rotate(-20 479.8 440.6)"/>
<path d="M479,450 L479,457"/>
<path d="M490.4,443.6 Q494,445.6 497.6,443.4 L501,438.6 Q504,435.4 508.6,436 L510,433.4 Q505,431 500,433.4 L497,436 Q494,440 490.4,443.6 Z M502.4,431.6 L503.6,433.4 M507.6,430.6 L508.8,433"/>
<path d="M500.6,440 L500.6,462.4"/>

<!-- ===== 11-16 ===== -->
<path d="M429.6,606.4 L433.6,609.6 L433.4,614 L428.6,616.6 L424.4,614.4 L423.4,609.6 L427,606.6 Z M427,606.6 L428.2,610.6 L433.6,609.6 M428.2,610.6 L428.6,616.6 M428.2,610.6 L423.4,609.6"/>
<ellipse cx="440.4" cy="608.4" rx="4" ry="4.8" transform="rotate(-15 440.4 608.4)"/>
<ellipse cx="440.6" cy="608.4" rx="2" ry="2.8" transform="rotate(-15 440.6 608.4)"/>
<path d="M425.5,592.4 L425.5,606.4 M434.4,592.4 L438.4,603.6"/>
<path d="M442.6,594.6 L448,591 L460,595.2 Q462.4,597 462.4,600 L462.3,607.7 L454,611.9 Q451.6,611.6 451.2,609.6 L451,602.6 L443.2,598.6 Q442,596.8 442.6,594.6 Z M443.2,598.6 L444,594 M451,602.6 L462.3,598.6 M448,591 Q447,594 451,596.8 L460,595.2"/>
<ellipse cx="449.4" cy="594.6" rx="2.4" ry="1.6"/>
<ellipse cx="457.8" cy="605" rx="1.4" ry="2.6"/>
<path d="M465.3,604.8 L470,604.8"/>
<ellipse cx="449.6" cy="617.4" rx="5.6" ry="2" />
<ellipse cx="449.6" cy="617.4" rx="3" ry="0.9" />
<path d="M457,617.2 L470,617.2"/>
<path d="M443.6,625.2 Q445,623.6 447.4,624.8 Q449.4,625.8 451.6,624.2 Q454.4,623.6 455,625.4 Q454,627 451.6,626.2 Q449.4,625 447.4,626.4 Q445,627.2 443.6,625.2 Z"/>
<path d="M457,625 L470,625"/>
<path d="M445.8,650.4 L445.8,634.4 Q446.6,632.6 449.2,632.6 Q452,632.6 452.8,634.4 L452.8,650.4 M445.8,636.4 L452.8,636.4 M445.8,638.6 L452.8,638.6 M445.8,640.8 L452.8,640.8 M445.8,643 L452.8,643 M445.8,645.2 L452.8,645.2 M445.8,647.4 L452.8,647.4"/>
<path d="M443.3,656 L443.3,652.4 L446,650.4 L452.6,650.4 L455.8,652.4 L455.8,656 M446,650.4 L446.6,656 M452.6,650.4 L452,656"/>
<path d="M454,642.8 L470,642.8"/>

<!-- ===== cylinder head ===== -->
<path d="M497.9,566 Q497.6,563.6 500,562.9 L588.8,520.6 L593.8,511.3 L604.6,506.2 L610.4,505 L612,505 L623.8,516.9 L627.5,519.4 L635,522.5 Q638.1,524 638.1,527.5 L638.1,536.3 L645,535 L647.5,542.5 L650,546 L650,579 L592.5,616 L517.5,639 L492.9,625 L492.3,577.5 Q495,575 497.3,576.3 Z" fill="#fff"/>
<path d="M604.6,506.4 L604.6,501 Q604.6,499.4 607.5,499.4 Q610.4,499.4 610.4,501 L610.4,505.6 M604.6,502.6 Q607.5,503.6 610.4,502.6"/>
<path d="M593.8,511.3 L608.1,524.4 L623.8,517.5 M588.8,518.8 L608.8,527.5 L627.5,519.4 M588.8,521.3 L609.4,531.3 L627.5,521.6 M588.8,518.8 L588.8,521.3"/>
<path d="M497.9,566 L497.3,576.3 M502.3,566.3 L523.5,575.6 L531,575.6 L636.3,525"/>
<path d="M519.8,587.5 L531,586.9 L638.1,536.3"/>
<path d="M519.8,590.6 L539.8,588.8 L640,539.4 M519.8,593.8 L539.8,592.6 L640,543.4 M539.8,587.6 L539.8,595 M519.8,587.5 L519.8,595.6 L539.8,594.8 L609.4,562.6 L609.4,555.2 M609.4,562.6 L640,547"/>
<path d="M638.1,531.3 L645,535 L647.5,542.5 M642.6,545 L642.6,566 L652.6,561 L652.6,545.6 L650,544.6"/>
<circle cx="645.8" cy="555" r="1.4"/>
<ellipse cx="506.6" cy="588.1" rx="9" ry="11.8" transform="rotate(-18 506.6 588.1)" fill="#fff"/>
<ellipse cx="507.2" cy="588.6" rx="5.6" ry="8.2" transform="rotate(-18 507.2 588.6)"/>
<path d="M503,582 Q505,585 505,592"/>
<path d="M492.6,622 L505,624.4 M507.4,607.6 Q510.6,612 511,619.6 L512.4,632 Q514,636 517.8,637.4 M509.4,607 Q512.6,611.6 513,619.2 L514.4,631.4 Q515.6,634.6 518.6,635.8"/>
<circle cx="502.6" cy="615.8" r="2.4"/><circle cx="516.2" cy="609.6" r="1.5"/><circle cx="506" cy="628" r="1.3"/>
<path d="M520,609.4 L533,613.8"/>
<path d="M538.2,630 L538.2,607 Q539,601 544.2,601 Q550,601.6 550.4,607.4 L550.4,626.4"/>
<circle cx="544.2" cy="613.2" r="2.6"/><circle cx="544.2" cy="613.2" r="1.3"/><circle cx="545.8" cy="624.6" r="1.5"/>
<path d="M535,610 Q537.6,612 538.6,615 M533.6,612 Q536.4,614 537,617"/>
<path d="M565.6,617.6 L565.6,594.4 Q566.6,588 572,588 Q578.4,588.8 578.8,595.4 L578.8,613.4"/>
<ellipse cx="571.6" cy="600.6" rx="3" ry="2.6"/><ellipse cx="571.6" cy="600.6" rx="1.6" ry="1.3"/>
<circle cx="572.2" cy="611.9" r="1.6"/>
<path d="M591.6,595 L591.6,615"/>
<path d="M597,603.4 L597,580 Q598,573.6 603.4,573.6 Q609.8,574.2 610.2,580.6 L610.2,599"/>
<ellipse cx="602.8" cy="585.2" rx="3" ry="2.6"/><ellipse cx="602.8" cy="585.2" rx="1.6" ry="1.3"/>
<circle cx="603.8" cy="596.3" r="1.5"/>
<path d="M626,584.6 L626,565 Q627,558.8 632.4,558.8 Q638.4,559.4 638.8,565.6 L638.8,578 Q636,582 632,583.6"/>
<ellipse cx="632.5" cy="571.3" rx="3" ry="2.6"/><ellipse cx="632.5" cy="571.3" rx="1.6" ry="1.3"/>
<ellipse cx="624.6" cy="583.4" rx="2.4" ry="3.6"/><circle cx="633.8" cy="581.3" r="1.4"/>
<path d="M592.5,616 L592.5,612 L640,590 L640,584 L650,579"/>

</g>

<!-- TEXT labels -->
<g font-size="10.3">
<text x="288.6" y="21.7" font-size="18" textLength="9.2" lengthAdjust="spacingAndGlyphs" fill="#222">C</text><text x="303.9" y="21.7" font-size="18" textLength="8.6" lengthAdjust="spacingAndGlyphs" fill="#222">S</text>
<text x="500" y="111.3" textLength="9.6" lengthAdjust="spacingAndGlyphs">01</text>
<text x="574.8" y="56.3" textLength="11.2" lengthAdjust="spacingAndGlyphs">03</text>
<text x="498.8" y="156.3" textLength="10.6" lengthAdjust="spacingAndGlyphs">02</text>
<text x="605" y="190.2" textLength="10" lengthAdjust="spacingAndGlyphs">18</text>
<text x="665" y="204.5" textLength="11.2" lengthAdjust="spacingAndGlyphs">20</text>
<text x="618.7" y="264.6" textLength="9" lengthAdjust="spacingAndGlyphs">21</text>
<text x="616.8" y="275.6" textLength="10" lengthAdjust="spacingAndGlyphs">22</text>
<text x="521.5" y="292.1" textLength="17" lengthAdjust="spacingAndGlyphs">18A</text>
<text x="431" y="262.2" textLength="16" lengthAdjust="spacingAndGlyphs">17C</text>
<text x="283.6" y="178.2" textLength="5" lengthAdjust="spacingAndGlyphs">6</text>
<text x="375" y="217.2" textLength="16" lengthAdjust="spacingAndGlyphs">17B</text>
<text x="269" y="427.2" textLength="8.4" lengthAdjust="spacingAndGlyphs">17</text>
<text x="291" y="437.2" textLength="16" lengthAdjust="spacingAndGlyphs">17A</text>
<text x="329" y="496.2" textLength="5" lengthAdjust="spacingAndGlyphs">4</text>
<text x="344.4" y="495.2" textLength="5" lengthAdjust="spacingAndGlyphs">3</text>
<text x="345" y="579" textLength="5" lengthAdjust="spacingAndGlyphs">9</text>
<text x="361" y="579" textLength="9" lengthAdjust="spacingAndGlyphs">10</text>
<text x="403.6" y="579" textLength="5" lengthAdjust="spacingAndGlyphs">7</text>
<text x="529.6" y="499.2" textLength="5" lengthAdjust="spacingAndGlyphs">8</text>
<text x="474.4" y="464.6" textLength="13" lengthAdjust="spacingAndGlyphs">4A</text>
<text x="491" y="471.2" textLength="25" lengthAdjust="spacingAndGlyphs">17AB</text>
<text x="420.2" y="590.6" textLength="8.8" lengthAdjust="spacingAndGlyphs">15</text>
<text x="430.8" y="590.6" textLength="8.4" lengthAdjust="spacingAndGlyphs">16</text>
<text x="470.6" y="607.8" textLength="9" lengthAdjust="spacingAndGlyphs">11</text>
<text x="471.2" y="619.6" textLength="9.5" lengthAdjust="spacingAndGlyphs">14</text>
<text x="471.2" y="628.6" textLength="9.5" lengthAdjust="spacingAndGlyphs">13</text>
<text x="471.2" y="646.4" textLength="9.5" lengthAdjust="spacingAndGlyphs">12</text>
<text x="428.6" y="415.6" textLength="8.6" lengthAdjust="spacingAndGlyphs">19</text>
<text x="686.8" y="345.2" font-size="11.2" textLength="3.8" lengthAdjust="spacingAndGlyphs">1</text>
<text x="658" y="355.2" font-size="11.2" textLength="22.6" lengthAdjust="spacingAndGlyphs">17AA</text>
<text x="668" y="419.6" font-size="11.2" textLength="13" lengthAdjust="spacingAndGlyphs">4A</text>
<text x="656.4" y="438.5" font-size="11.2" textLength="25.2" lengthAdjust="spacingAndGlyphs">17AB</text>
</g>
<circle cx="676.2" cy="375.8" r="11" fill="rgb(18,45,163)" fill-opacity="0.55"/>
<text x="674" y="379.8" font-size="11" textLength="4.6" lengthAdjust="spacingAndGlyphs">2</text>

</svg>
</body></html>
